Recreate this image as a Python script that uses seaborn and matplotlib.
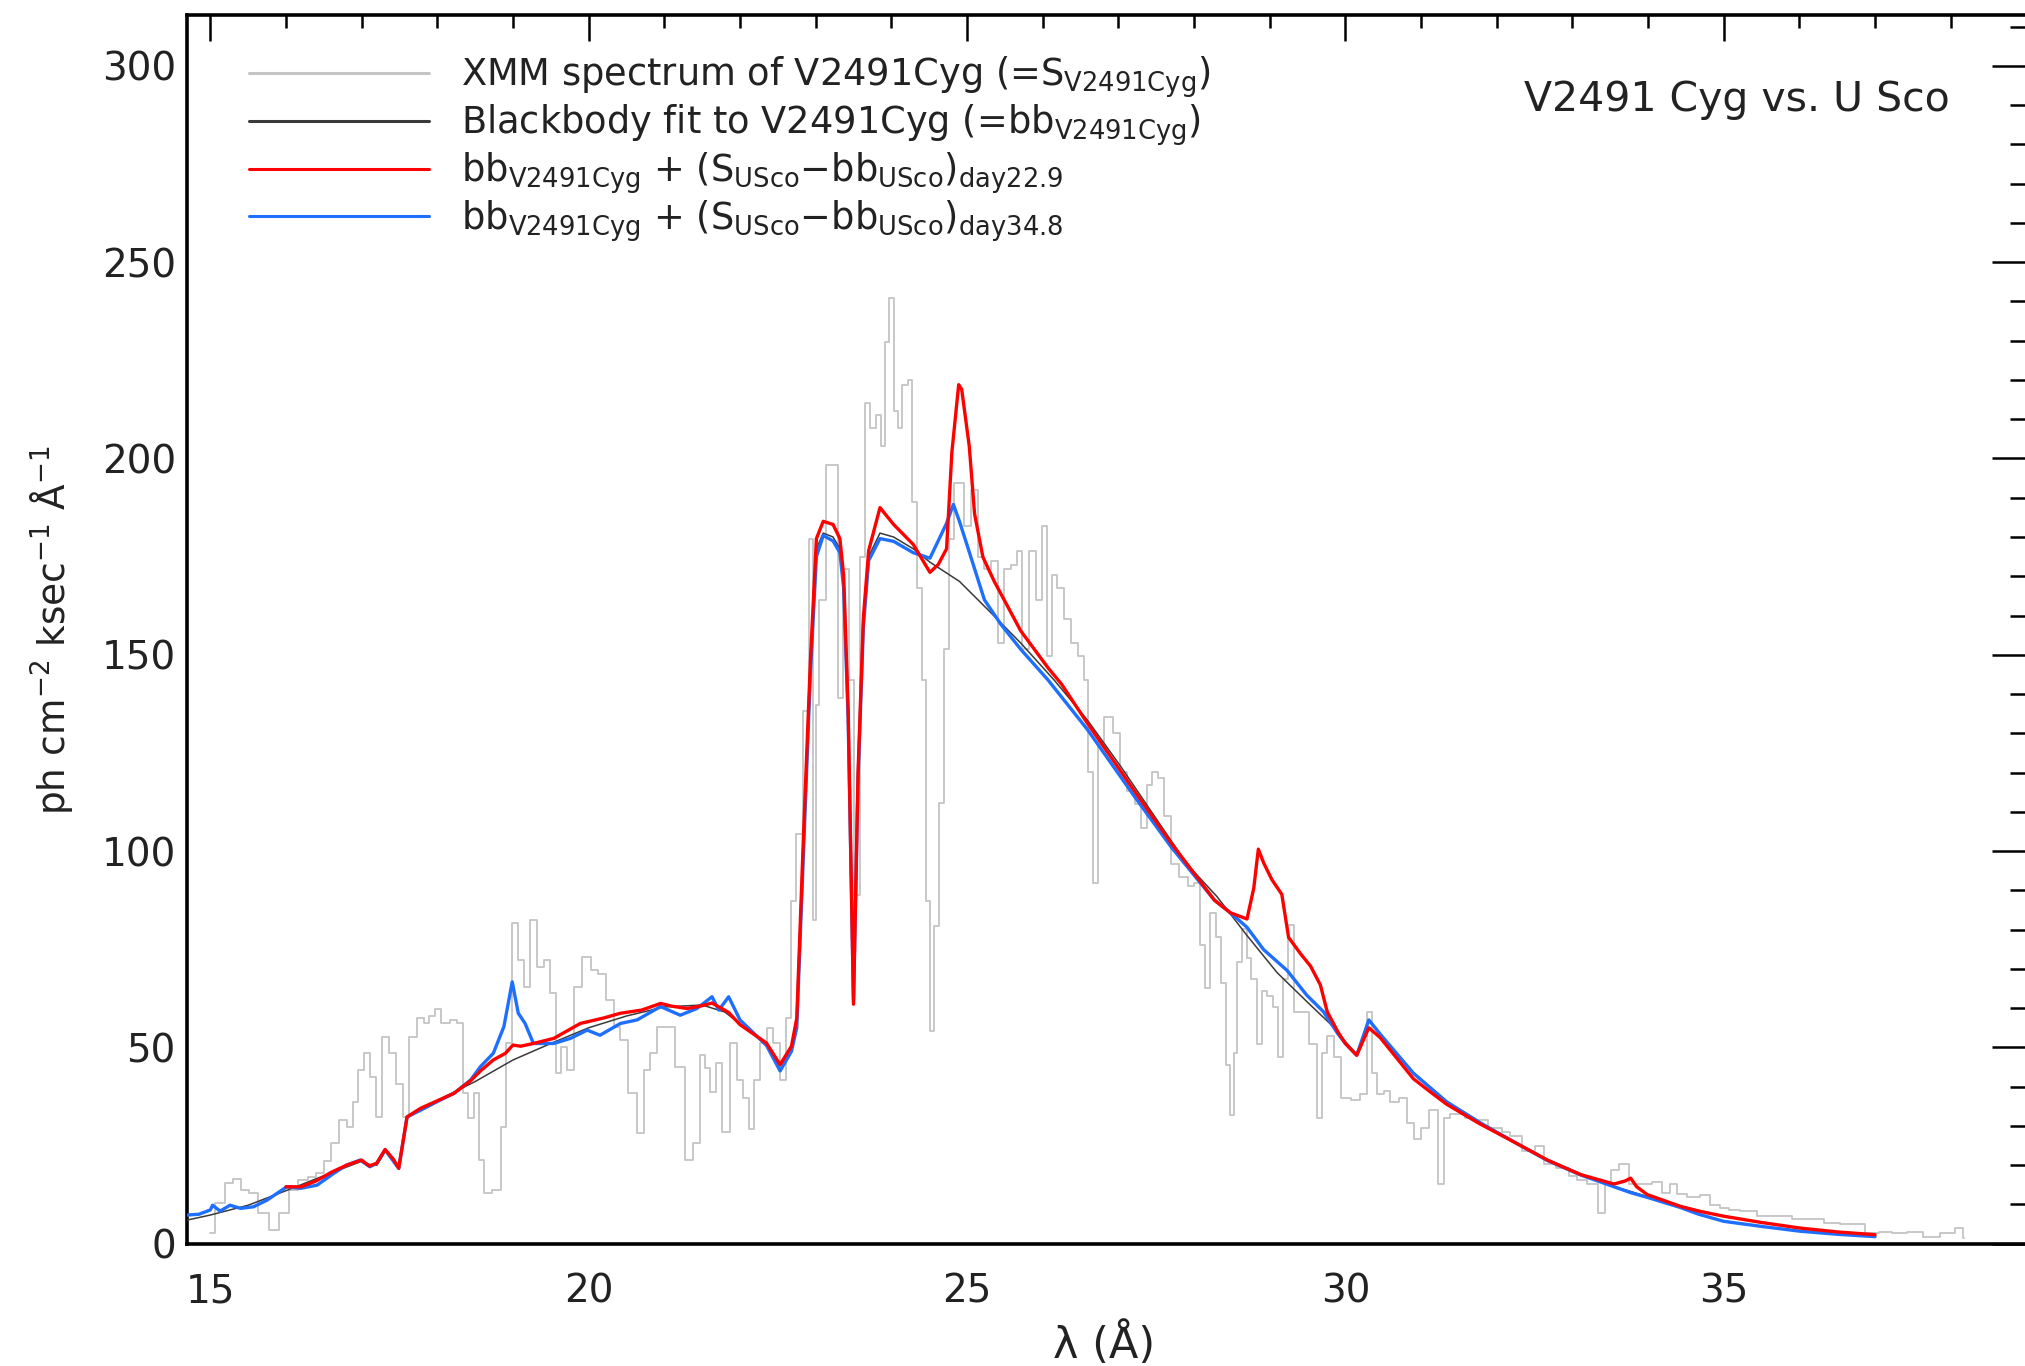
import numpy as np
import pandas as pd
import matplotlib
matplotlib.use("Agg")
import matplotlib.pyplot as plt
import seaborn as sns
from matplotlib.ticker import MultipleLocator

# ---------------- data ----------------
xmm_wave = [15.0, 15.13, 15.26, 15.35, 15.46, 15.57, 15.7, 15.84, 15.97, 16.1, 16.23, 16.35, 16.45,
            16.55, 16.63, 16.76, 16.85, 16.92, 16.98, 17.07, 17.16, 17.22, 17.31, 17.4, 17.51, 17.58,
            17.67, 17.78, 17.86, 17.93, 18.0, 18.11, 18.22, 18.3, 18.37, 18.44, 18.52, 18.57, 18.66,
            18.79, 18.88, 18.94, 19.03, 19.1, 19.19, 19.27, 19.36, 19.45, 19.54, 19.6, 19.67, 19.76,
            19.85, 19.98, 20.07, 20.18, 20.29, 20.37, 20.46, 20.59, 20.68, 20.77, 20.86, 20.95, 21.08,
            21.21, 21.34, 21.43, 21.52, 21.56, 21.65, 21.71, 21.82, 21.91, 22.0, 22.09, 22.15, 22.22,
            22.31, 22.4, 22.48, 22.57, 22.64, 22.7, 22.79, 22.88, 22.95, 22.99, 23.01, 23.08, 23.19,
            23.26, 23.32, 23.41, 23.48, 23.54, 23.63, 23.67, 23.76, 23.83, 23.89, 23.94, 24.0, 24.07,
            24.11, 24.18, 24.25, 24.29, 24.38, 24.42, 24.49, 24.53, 24.6, 24.67, 24.73, 24.8, 24.86,
            24.92, 25.01, 25.1, 25.19, 25.27, 25.36, 25.45, 25.54, 25.63, 25.69, 25.76, 25.87, 25.96,
            26.02, 26.09, 26.15, 26.24, 26.33, 26.42, 26.51, 26.57, 26.64, 26.7, 26.77, 26.86, 26.99,
            27.06, 27.17, 27.26, 27.34, 27.41, 27.48, 27.56, 27.65, 27.74, 27.87, 27.96, 28.05, 28.11,
            28.18, 28.25, 28.33, 28.39, 28.46, 28.5, 28.55, 28.59, 28.68, 28.72, 28.79, 28.88, 28.92,
            29.01, 29.07, 29.14, 29.21, 29.27, 29.36, 29.47, 29.58, 29.66, 29.71, 29.8, 29.89, 30.0,
            30.15, 30.24, 30.33, 30.37, 30.46, 30.55, 30.64, 30.77, 30.86, 30.95, 31.04, 31.17, 31.28,
            31.34, 31.43, 31.52, 31.65, 31.78, 32.0, 32.14, 32.22, 32.44, 32.58, 32.67, 32.89, 33.02,
            33.11, 33.28, 33.39, 33.46, 33.55, 33.68, 33.81, 33.99, 34.12, 34.25, 34.34, 34.43, 34.6,
            34.78, 34.87, 35.04, 35.11, 35.33, 35.55, 35.81, 35.99, 36.21, 36.43, 36.65, 36.78, 36.96,
            37.14, 37.31, 37.53, 37.75, 37.97, 38.15, 38.17]
xmm_flux = [2.6, 10.3, 15.4, 16.6, 13.7, 12.8, 7.7, 3.5, 7.7, 13.7, 16.2, 17.0, 17.9,
            21.0, 25.6, 31.5, 29.8, 36.0, 44.2, 48.5, 42.5, 32.3, 52.7, 48.5, 40.8, 32.3,
            52.7, 57.4, 56.1, 58.0, 59.9, 56.1, 57.0, 56.1, 38.3, 31.9, 38.3, 21.3, 12.8,
            13.7, 29.8, 51.0, 81.6, 72.2, 65.4, 82.4, 70.5, 72.2, 63.8, 43.4, 50.2, 44.2,
            65.4, 73.1, 69.7, 68.8, 62.0, 55.3, 51.9, 38.3, 28.1, 44.2, 48.5, 55.3, 55.3,
            45.1, 21.3, 25.6, 48.0, 44.8, 38.6, 46.0, 28.4, 51.1, 41.7, 37.0, 29.2, 41.7,
            51.1, 55.0, 51.0, 41.7, 57.4, 87.2, 104.4, 135.7, 179.6, 82.4, 137.3, 164.0, 198.4,
            198.4, 138.9, 171.8, 143.6, 88.7, 175.0, 214.1, 207.8, 211.0, 203.1, 229.8, 240.8, 212.0,
            207.8, 218.8, 220.0, 189.0, 167.1, 143.6, 87.2, 54.2, 80.9, 112.2, 151.4, 179.6, 193.7,
            193.7, 182.8, 192.0, 175.0, 171.8, 174.0, 153.0, 171.8, 173.0, 176.5, 151.4, 176.5, 164.0,
            182.8, 149.8, 170.2, 167.0, 159.2, 153.0, 149.8, 143.6, 120.1, 91.9, 127.9, 134.2, 130.0,
            120.1, 115.4, 112.0, 106.0, 116.9, 120.1, 118.5, 109.0, 96.6, 93.4, 91.0, 92.0, 76.2,
            65.2, 84.3, 78.0, 66.5, 45.5, 32.9, 48.7, 71.7, 80.1, 72.8, 67.5, 50.8, 64.4,
            63.0, 60.2, 47.6, 67.5, 81.2, 59.1, 59.0, 50.8, 31.9, 48.7, 52.8, 47.6, 37.1,
            36.7, 38.2, 59.0, 43.4, 38.2, 39.0, 36.1, 37.0, 30.8, 26.6, 29.5, 34.0, 15.1,
            31.9, 33.0, 33.0, 32.0, 31.4, 29.5, 28.4, 27.4, 23.5, 24.9, 20.3, 19.3, 17.2,
            16.2, 15.1, 7.8, 15.1, 18.8, 20.3, 15.1, 15.1, 15.6, 13.0, 15.1, 12.6, 12.0,
            12.5, 9.9, 9.0, 8.7, 8.3, 7.0, 7.0, 6.2, 6.2, 5.3, 4.9, 4.9, 2.7,
            3.1, 2.7, 3.1, 1.8, 2.7, 4.0, 1.4]

bb_wave = [14.69, 15.0, 15.5, 16.0, 16.5, 17.0, 17.1, 17.2, 17.31, 17.42, 17.49, 17.6, 17.8, 18.0,
           18.5, 19.0, 19.5, 20.0, 20.5, 21.0, 21.5, 21.8, 22.0, 22.35, 22.53, 22.68, 22.75, 22.84,
           22.93, 23.01, 23.1, 23.23, 23.32, 23.37, 23.43, 23.5, 23.56, 23.63, 23.7, 23.85, 24.03,
           24.29, 24.51, 24.9, 25.27, 25.71, 26.15, 26.59, 27.03, 27.47, 27.91, 28.3, 28.7, 29.1,
           29.5, 29.8, 30.0, 30.15, 30.31, 30.46, 30.9, 31.34, 31.78, 32.22, 32.67, 33.11, 33.55,
           33.99, 34.43, 34.87, 35.3, 36.0, 36.5, 37.0]
bb_flux = [6.0, 7.3, 9.8, 13.5, 17.3, 21.0, 20.2, 20.0, 23.5, 21.5, 19.2, 32.0, 34.3, 36.5,
           41.3, 46.8, 51.0, 55.0, 58.0, 60.3, 60.8, 59.0, 56.0, 51.0, 45.3, 50.0, 57.0, 104.0,
           148.0, 177.0, 181.0, 180.0, 177.0, 168.0, 135.0, 61.0, 120.0, 158.0, 175.0, 181.0, 180.0,
           177.0, 173.6, 168.7, 161.6, 153.0, 143.6, 133.4, 121.6, 109.1, 96.6, 88.5, 78.5, 69.0,
           61.5, 56.0, 51.5, 48.2, 57.0, 53.4, 43.6, 36.3, 31.0, 26.2, 21.5, 17.8, 14.6,
           12.0, 9.6, 7.6, 6.0, 4.0, 3.0, 2.2]

day229_wave = [16.0, 16.2, 16.4, 16.6, 16.8, 17.0, 17.1, 17.2, 17.31, 17.42, 17.49, 17.6, 17.78, 18.0,
               18.22, 18.44, 18.57, 18.74, 18.9, 19.0, 19.1, 19.27, 19.54, 19.89, 20.2, 20.42, 20.7,
               20.95, 21.1, 21.3, 21.47, 21.63, 21.85, 22.0, 22.35, 22.53, 22.68, 22.75, 22.84, 22.93,
               23.01, 23.1, 23.23, 23.32, 23.37, 23.43, 23.5, 23.56, 23.63, 23.7, 23.85, 24.03, 24.29,
               24.51, 24.62, 24.73, 24.8, 24.89, 24.93, 25.03, 25.1, 25.21, 25.36, 25.71, 26.07, 26.25,
               26.59, 27.21, 27.7, 28.27, 28.48, 28.7, 28.79, 28.85, 28.92, 29.03, 29.16, 29.25, 29.41,
               29.54, 29.67, 29.76, 29.9, 30.0, 30.15, 30.31, 30.46, 30.9, 31.1, 31.34, 31.78, 32.22,
               32.67, 33.11, 33.55, 33.7, 33.77, 33.85, 33.99, 34.43, 34.67, 35.0, 35.5, 36.0, 36.5, 37.0]
day229_flux = [14.5, 14.5, 16.0, 18.2, 20.0, 21.3, 19.8, 20.5, 24.0, 21.5, 19.2, 32.3, 34.5, 36.4,
               38.3, 41.5, 44.0, 46.8, 48.5, 50.6, 50.3, 51.0, 52.3, 56.1, 57.5, 58.7, 59.5,
               61.2, 60.5, 59.9, 60.5, 61.3, 58.9, 55.8, 51.1, 45.6, 50.3, 57.4, 104.4, 148.3,
               179.6, 184.0, 183.2, 179.6, 170.2, 135.7, 61.0, 120.0, 159.3, 176.5, 187.5, 183.2, 178.1,
               171.0, 173.0, 177.0, 201.6, 218.8, 217.6, 203.1, 185.9, 174.9, 168.7, 156.1, 146.7, 142.5,
               132.6, 115.4, 102.0, 87.5, 84.3, 82.7, 90.6, 100.5, 97.0, 92.7, 89.0, 78.0, 73.8,
               70.7, 65.9, 59.1, 54.0, 51.0, 48.0, 55.0, 52.5, 42.0, 39.0, 35.5, 30.5, 26.0,
               21.3, 17.6, 15.2, 16.0, 16.7, 14.5, 12.5, 9.5, 8.3, 7.0, 5.4, 4.0, 3.0, 2.3]

day348_wave = [14.69, 14.85, 15.0, 15.03, 15.13, 15.26, 15.4, 15.57, 15.75, 16.01, 16.19, 16.41, 16.63,
               16.8, 16.98, 17.11, 17.2, 17.31, 17.42, 17.49, 17.6, 17.78, 18.0, 18.22, 18.44, 18.57,
               18.74, 18.88, 18.99, 19.07, 19.16, 19.27, 19.54, 19.76, 19.98, 20.15, 20.42, 20.64, 20.95,
               21.21, 21.43, 21.63, 21.72, 21.85, 22.0, 22.35, 22.53, 22.68, 22.75, 22.84, 22.93, 23.01,
               23.1, 23.23, 23.32, 23.37, 23.43, 23.5, 23.56, 23.63, 23.7, 23.85, 24.03, 24.29, 24.51,
               24.73, 24.82, 24.9, 25.0, 25.23, 25.45, 25.71, 26.07, 26.59, 27.21, 27.7, 28.27, 28.48,
               28.7, 28.92, 29.23, 29.49, 29.71, 29.9, 30.0, 30.15, 30.31, 30.46, 30.9, 31.34, 31.78,
               32.22, 32.67, 33.11, 33.55, 33.77, 33.99, 34.43, 34.67, 35.0, 35.5, 36.0, 36.5, 37.0]
day348_flux = [7.3, 7.5, 8.6, 9.8, 8.3, 9.8, 9.0, 9.4, 11.1, 14.5, 14.1, 14.9, 17.9,
               20.0, 21.3, 19.6, 20.5, 23.9, 21.0, 19.2, 32.3, 34.0, 36.2, 38.3, 41.7, 45.1,
               48.5, 55.3, 66.7, 58.7, 56.1, 51.0, 51.0, 52.3, 54.4, 53.1, 56.1, 57.0, 60.4,
               58.2, 59.9, 62.9, 59.5, 62.9, 57.0, 50.5, 44.0, 49.0, 55.0, 100.0, 145.0, 175.0,
               180.4, 179.0, 176.0, 167.0, 133.0, 62.0, 118.0, 157.0, 174.0, 179.6, 178.9, 176.0, 174.6,
               183.5, 188.3, 184.0, 178.0, 164.0, 157.7, 151.4, 143.6, 131.0, 114.0, 101.0, 87.5, 84.3,
               80.6, 74.9, 69.6, 63.3, 59.1, 53.5, 51.0, 48.0, 57.0, 53.4, 43.4, 36.1, 30.8,
               26.0, 21.2, 17.5, 14.5, 13.0, 11.8, 9.2, 7.5, 5.7, 4.4, 3.2, 2.4, 1.8]

labels = [r"XMM spectrum of V2491Cyg (=S$_{\rm V2491Cyg}$)",
          r"Blackbody fit to V2491Cyg (=bb$_{\rm V2491Cyg}$)",
          r"bb$_{\rm V2491Cyg}$ + (S$_{\rm USco}$$-$bb$_{\rm USco}$)$_{\rm day22.9}$",
          r"bb$_{\rm V2491Cyg}$ + (S$_{\rm USco}$$-$bb$_{\rm USco}$)$_{\rm day34.8}$"]
colors = ["#c4c4c4", "#3a3a3a", "#ff0000", "#1f6fff"]

# ---------------- figure ----------------
sns.set_style("white")
plt.rcParams['font.family'] = ['DejaVu Sans']
plt.rcParams['mathtext.fontset'] = 'dejavusans'

W, H = 2025, 1366
fig = plt.figure(figsize=(W / 100, H / 100), dpi=100)
ax_l, ax_r, ax_t, ax_b = 187, 2029, 15.5, 1243.7
ax = fig.add_axes([ax_l / W, 1 - ax_b / H, (ax_r - ax_l) / W, (ax_b - ax_t) / H])

df_xmm = pd.DataFrame({"wave": xmm_wave, "flux": xmm_flux})
df_bb = pd.DataFrame({"wave": bb_wave, "flux": bb_flux})
df_r = pd.DataFrame({"wave": day229_wave, "flux": day229_flux})
df_b = pd.DataFrame({"wave": day348_wave, "flux": day348_flux})

sns.lineplot(data=df_xmm, x="wave", y="flux", ax=ax, color=colors[0], lw=1.3,
             drawstyle="steps-mid", label=labels[0], zorder=2)
sns.lineplot(data=df_bb, x="wave", y="flux", ax=ax, color=colors[1], lw=1.1,
             label=labels[1], zorder=3)
sns.lineplot(data=df_b, x="wave", y="flux", ax=ax, color=colors[3], lw=2.4,
             label=labels[3], zorder=4)
sns.lineplot(data=df_r, x="wave", y="flux", ax=ax, color=colors[2], lw=2.4,
             label=labels[2], zorder=5)

ax.set_xlim(14.692, 14.692 + (ax_r - ax_l) / 75.67)
ax.set_ylim(0, (ax_b - ax_t) / 3.926)

ax.xaxis.set_major_locator(MultipleLocator(5))
ax.xaxis.set_minor_locator(MultipleLocator(1))
ax.yaxis.set_major_locator(MultipleLocator(50))
ax.yaxis.set_minor_locator(MultipleLocator(10))

ax.tick_params(which="both", direction="in", top=True, right=True, color="black",
               width=1.8, labelsize=28, labelcolor="#222222")
ax.tick_params(axis="x", which="major", length=19, pad=21)
ax.tick_params(axis="x", which="minor", length=9.5)
ax.tick_params(axis="y", which="major", length=27, pad=8)
ax.tick_params(axis="y", which="minor", length=14)

for s in ax.spines.values():
    s.set_linewidth(2.6)
    s.set_color("black")

ax.set_xlabel("λ (Å)", fontsize=31, color="#222222")
ax.set_ylabel(r"ph cm$^{-2}$ ksec$^{-1}$ Å$^{-1}$", fontsize=27, color="#222222")
ax.xaxis.set_label_coords(0.498, -0.064)
ax.yaxis.set_label_coords(-0.061, 0.5)

ax.text(0.957, 0.9315, "V2491 Cyg vs. U Sco", transform=ax.transAxes, ha="right",
        va="center", fontsize=29.5, color="#222222")

handles, labs = ax.get_legend_handles_labels()
order = [labs.index(l) for l in labels]
leg = ax.legend([handles[i] for i in order], [labs[i] for i in order], loc="upper left",
                bbox_to_anchor=(0.0337, 0.9685), frameon=False, fontsize=26.5,
                handlelength=4.9, handletextpad=0.86, labelspacing=0.06,
                borderpad=0, borderaxespad=0)
for t in leg.get_texts():
    t.set_color("#222222")
for h in leg.get_lines():
    h.set_linewidth(2.2)

fig.savefig("out.png", dpi=100)
